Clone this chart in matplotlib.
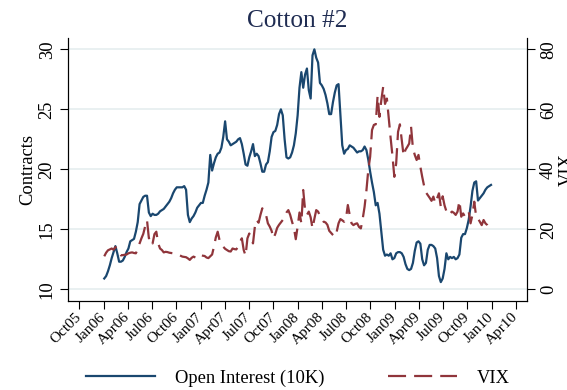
import matplotlib
matplotlib.use("Agg")
import matplotlib.pyplot as plt
import pandas as pd

plt.rcParams["font.family"] = ["Liberation Serif", "DejaVu Serif"]
plt.rcParams["lines.scale_dashes"] = False

# Weekly observations (Tuesdays), Jan 2006 - Dec 2009
weeks = pd.date_range("2006-01-03", "2009-12-29", freq="7D")

# Cotton #2 open interest, in units of 10K contracts
open_interest = [
    10.9, 11.1, 11.5, 12.0, 12.6, 13.1, 13.6, 13.0, 12.3, 12.3,
    12.4, 12.7, 13.1, 13.4, 14.0, 14.1, 14.2, 14.8, 15.6, 17.1,
    17.4, 17.7, 17.8, 17.8, 16.4, 16.1, 16.3, 16.2, 16.2, 16.3,
    16.5, 16.6, 16.7, 16.9, 17.1, 17.3, 17.6, 18.0, 18.3, 18.5,
    18.5, 18.5, 18.5, 18.6, 18.3, 16.2, 15.6, 15.9, 16.1, 16.4,
    16.8, 17.0, 17.2, 17.2, 17.8, 18.3, 18.9, 21.2, 19.9, 20.5,
    21.0, 21.3, 21.4, 21.8, 22.7, 24.0, 22.5, 22.3, 22.0, 22.1,
    22.2, 22.3, 22.5, 22.6, 22.1, 21.3, 20.4, 20.3, 21.0, 21.5,
    22.1, 21.1, 21.3, 21.1, 20.5, 19.8, 19.8, 20.4, 20.6, 21.5,
    22.7, 23.1, 23.2, 23.7, 24.6, 25.0, 24.5, 22.5, 21.0, 20.9,
    21.0, 21.4, 22.0, 23.0, 24.5, 26.8, 28.1, 26.8, 27.9, 28.4,
    26.6, 25.9, 29.5, 30.0, 29.3, 28.9, 27.2, 27.0, 26.7, 26.2,
    25.5, 24.6, 24.6, 25.6, 26.4, 27.0, 27.1, 24.5, 22.0, 21.3,
    21.6, 21.7, 22.0, 21.9, 21.8, 21.6, 21.4, 21.5, 21.5, 21.6,
    21.9, 21.6, 20.8, 19.8, 18.9, 18.1, 17.0, 17.2, 16.3, 14.8,
    13.3, 12.8, 12.9, 12.8, 13.0, 12.5, 12.6, 13.0, 13.1, 13.1,
    13.0, 12.7, 12.1, 11.7, 11.6, 11.7, 12.2, 13.2, 13.9, 14.0,
    13.8, 12.5, 12.0, 12.2, 13.3, 13.7, 13.7, 13.6, 13.4, 12.6,
    11.1, 10.6, 10.9, 11.7, 13.0, 12.5, 12.7, 12.6, 12.7, 12.5,
    12.6, 12.9, 14.3, 14.6, 14.6, 15.1, 15.8, 16.9, 18.2, 18.9,
    19.0, 17.4, 17.6, 17.8, 18.0, 18.3, 18.5, 18.6, 18.7,
]

# CBOE volatility index
vix = [
    11.0, 12.2, 13.0, 13.3, 13.6, 13.2, 14.1, 13.2, 12.3, 11.3,
    11.4, 11.5, 11.6, 12.0, 12.2, 12.3, 12.1, 12.0, 13.4, 15.3,
    17.0, 18.5, 21.0, 23.0, 17.0, 17.5, 15.3, 18.4, 19.2, 15.3,
    13.6, 13.1, 12.3, 12.5, 12.4, 12.2, 12.1, 12.0, 11.8, 11.7,
    11.5, 11.2, 10.9, 10.8, 10.7, 10.3, 9.8, 10.5, 10.9, 10.6,
    10.3, 10.9, 11.4, 11.2, 11.1, 10.6, 10.4, 11.0, 11.6, 14.2,
    17.3, 19.2, 16.4, 15.3, 14.2, 13.5, 13.1, 12.7, 12.6, 13.6,
    13.4, 13.3, 14.2, 15.8, 17.0, 13.1, 11.2, 17.0, 18.6, 17.0,
    15.3, 20.9, 23.1, 22.2, 24.8, 27.0, 26.0, 24.8, 22.0, 20.9,
    19.5, 17.0, 18.5, 20.5, 21.5, 22.3, 23.1, 24.5, 25.6, 26.4,
    24.8, 22.5, 20.5, 16.7, 20.9, 25.6, 22.0, 33.1, 26.5, 24.8,
    25.9, 24.0, 20.3, 23.5, 26.4, 25.9, 24.5, 23.6, 22.5, 22.3,
    21.5, 19.5, 18.8, 18.1, 17.5, 19.2, 22.0, 23.4, 23.0, 22.5,
    23.6, 28.1, 24.8, 22.0, 21.4, 21.8, 22.0, 20.8, 20.3, 23.5,
    27.5, 33.0, 39.8, 44.2, 53.1, 54.8, 55.0, 64.5, 57.5, 63.0,
    67.5, 61.8, 63.6, 57.0, 50.5, 44.5, 37.5, 42.0, 52.5, 55.0,
    49.8, 44.5, 46.5, 47.5, 48.6, 54.2, 47.0, 44.8, 43.1, 44.8,
    40.9, 37.5, 34.5, 32.3, 31.4, 30.5, 29.5, 30.9, 28.7, 30.3,
    32.0, 27.5, 31.0, 28.0, 26.0, 24.8, 25.3, 25.9, 25.5, 24.8,
    25.9, 29.5, 24.2, 25.3, 24.2, 24.8, 25.9, 22.0, 24.8, 29.2,
    24.2, 23.6, 22.5, 21.4, 23.1, 22.0, 21.4, 20.3, 20.0,
]

# Axis ticks
x_ticks = pd.date_range("2005-10-01", "2010-04-01", freq="QS")
x_labels = [d.strftime("%b%y") for d in x_ticks]
oi_ticks = [10, 15, 20, 25, 30]
vix_ticks = [0, 20, 40, 60, 80]

navy = "#1a476f"
maroon = "#90353b"
grid_col = "#e3eced"
title_col = "#1f2c52"
fs = 13.3
fs_x = 11.0

W, H = 567, 390
fig = plt.figure(figsize=(W / 100, H / 100), dpi=100)
fig.patch.set_facecolor("white")

left, right, top, bottom = 67.7, 527.3, 38.3, 300.7
ax = fig.add_axes([left / W, 1 - bottom / H, (right - left) / W, (bottom - top) / H])
ax2 = ax.twinx()

ax.set_zorder(1)
ax2.set_zorder(2)
ax2.patch.set_visible(False)

l1, = ax.plot(weeks, open_interest, color=navy, lw=1.6, solid_joinstyle="round",
              label="Open Interest (10K)", zorder=3)
l2, = ax2.plot(weeks, vix, color=maroon, lw=1.6, dashes=(13, 5.8),
               label="VIX", zorder=3)

pad_days = pd.Timedelta(days=43.6)
ax.set_xlim(x_ticks[0] - pad_days, x_ticks[-1] + pad_days)
ylo, yhi = 9.05, 30.92
ax.set_ylim(ylo, yhi)
ax2.set_ylim((ylo - 10) * 4, (yhi - 10) * 4)

# x axis: quarterly ticks, grid only on interior quarters
ax.set_xticks(x_ticks)
ax.set_xticklabels(x_labels, rotation=45, ha="right", va="center",
                   rotation_mode="anchor", fontsize=fs_x)
ax.set_xticks(x_ticks[1:-1], minor=True)
ax.tick_params(axis="x", which="major", direction="out", length=5.5, width=0.8, pad=4.7)
ax.tick_params(axis="x", which="minor", length=0)
ax.grid(axis="x", which="minor", color=grid_col, lw=1.1)

# left axis
ax.set_yticks(oi_ticks)
ax.set_yticklabels([str(v) for v in oi_ticks], fontsize=fs)
ax.tick_params(axis="y", direction="out", length=5.5, width=0.8, pad=6.0)
for lbl in ax.get_yticklabels():
    lbl.set_rotation(90)
    lbl.set_rotation_mode("anchor")
    lbl.set_ha("center")
    lbl.set_va("baseline")
ax.grid(axis="y", which="major", color=grid_col, lw=1.1)
ax.set_axisbelow(True)

# right axis
ax2.set_yticks(vix_ticks)
ax2.set_yticklabels([str(v) for v in vix_ticks], fontsize=fs)
ax2.tick_params(axis="y", direction="out", length=5.5, width=0.8, pad=3.6)
for lbl in ax2.get_yticklabels():
    lbl.set_rotation(90)
    lbl.set_rotation_mode("anchor")
    lbl.set_ha("center")
    lbl.set_va("top")

for a in (ax, ax2):
    a.spines["top"].set_visible(False)
    for s in ("left", "right", "bottom"):
        a.spines[s].set_linewidth(0.8)
        a.spines[s].set_color("black")

# axis titles and chart title
mid_y = 1 - (top + bottom) / 2 / H
fig.text(32.3 / W, mid_y, "Contracts", rotation=90, rotation_mode="anchor",
         ha="center", va="baseline", fontsize=fs)
fig.text(572 / W, mid_y, "VIX", rotation=90, rotation_mode="anchor",
         ha="center", va="baseline", fontsize=fs)
fig.text((left + right) / 2 / W, 1 - 26.7 / H, "Cotton #2", ha="center",
         va="baseline", fontsize=18.2, color=title_col)

fig.legend([l1, l2], [l1.get_label(), l2.get_label()], loc="center",
           bbox_to_anchor=(298 / W, 1 - 378.3 / H), ncol=2, frameon=False,
           handlelength=3.72, handletextpad=1.09, columnspacing=3.44,
           fontsize=fs)

fig.savefig("out.png", dpi=100, facecolor="white")
